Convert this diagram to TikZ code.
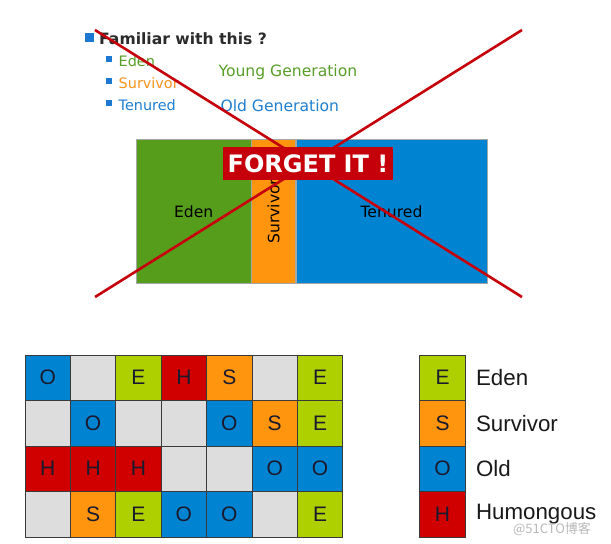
\documentclass[tikz,border=0pt]{standalone}
\usepackage{fontspec}
\setmainfont{DejaVu Sans}
\newfontfamily\gcarial{Liberation Sans}
\newfontfamily\gccjk{Noto Sans CJK SC}
\usepackage{xcolor}
\usepackage{tikz}
\usetikzlibrary{positioning}
\definecolor{gcink}{HTML}{2B2B2B}
\definecolor{gcbullet}{HTML}{1C78D0}
\definecolor{gctxtgreen}{HTML}{5A9E2A}
\definecolor{gctxtorange}{HTML}{F7941D}
\definecolor{gctxtblue}{HTML}{1F7FD0}
\definecolor{gcgreen}{HTML}{579D1C}
\definecolor{gcorange}{HTML}{FF950E}
\definecolor{gcblue}{HTML}{0084D1}
\definecolor{gcred}{HTML}{C5000B}
\definecolor{gclime}{HTML}{AECF00}
\definecolor{gchum}{HTML}{D00000}
\definecolor{gcempty}{HTML}{DDDDDD}
\definecolor{gcframe}{HTML}{3A3A3A}
\definecolor{gcletter}{HTML}{1A1A2E}

\begin{document}
\begin{tikzpicture}[
    x=1pt,
    y=-1pt,
    block/.style={draw=black!35, line width=0.4pt, inner sep=0pt, minimum height=144pt, anchor=north west},
    bullet/.style={fill=gcbullet, inner sep=0pt},
    cell/.style={draw=gcframe, line width=0.7pt, inner sep=0pt, minimum width=45.4pt, minimum height=45.5pt,
      font=\gcarial\fontsize{21}{21}\selectfont, text=gcletter},
    kind E/.style={fill=gclime, node contents=E},
    kind S/.style={fill=gcorange, node contents=S},
    kind O/.style={fill=gcblue, node contents=O},
    kind H/.style={fill=gchum, node contents=H},
    kind N/.style={fill=gcempty, node contents={}},
    cross/.style={draw=gcred, line width=2.6pt}
  ]
    \useasboundingbox[fill=white] (0,0) rectangle (611,544);

    % 1. Old style heap list
    \node[bullet, minimum size=9pt] (b-main) at (89,37) {};
    \node[right=2pt of b-main, yshift=-1.5pt, font=\bfseries\fontsize{15.6}{15.6}\selectfont, text=gcink] (t-main) {Familiar with this ?};

    \foreach \name/\txt/\col/\yy in {eden/Eden/gctxtgreen/59, surv/Survivor/gctxtorange/81, ten/Tenured/gctxtblue/103} {
      \node[bullet, minimum size=6pt] (sb-\name) at (109,\yy) {};
      \node[right=3pt of sb-\name, yshift=-2.5pt, font=\fontsize{14.4}{14.4}\selectfont, text=\col] (st-\name) {\txt};
    }

    \node[anchor=west, font=\fontsize{15.6}{15.6}\selectfont, text=gctxtgreen] (t-young) at (215,72) {Young Generation};
    \node[anchor=west, font=\fontsize{15.6}{15.6}\selectfont, text=gctxtblue] (t-old) at (217,106) {Old Generation};

    % 2. Contiguous generations
    \node[block, fill=gcgreen, minimum width=115pt] (blk-eden) at (136,139) {};
    \node[block, fill=gcorange, minimum width=44pt] (blk-surv) at (blk-eden.north east) {};
    \node[block, fill=gcblue, minimum width=191pt] (blk-ten) at (blk-surv.north east) {};

    \node[font=\fontsize{15.6}{15.6}\selectfont] (l-eden) at (blk-eden) {Eden};
    \node[font=\fontsize{15.6}{15.6}\selectfont, rotate=90] (l-surv) at (blk-surv) {Survivor};
    \node[font=\fontsize{15.6}{15.6}\selectfont] (l-ten) at (blk-ten) {Tenured};

    % 3. Crossed out
    \coordinate (x-nw) at (95,30);
    \coordinate (x-se) at (522,297);
    \coordinate (x-ne) at (522,30);
    \coordinate (x-sw) at (95,297);
    \draw[cross] (x-nw) -- (x-se);
    \draw[cross] (x-ne) -- (x-sw);

    \node[fill=gcred, text=white, inner sep=0pt, minimum width=170pt, minimum height=33pt,
      font=\bfseries\fontsize{24}{24}\selectfont] (banner) at (308,163.5) {FORGET IT !};

    % 4. G1 region grid
    \foreach \row [count=\r] in {{O,N,E,H,S,N,E},{N,O,N,N,O,S,E},{H,H,H,N,N,O,O},{N,S,E,O,O,N,E}} {
      \foreach \k [count=\c] in \row {
        \node[cell, name=cell-\r-\c, at={({25+45.4*(\c-0.5)},{355+45.5*(\r-0.5)})}, kind \k];
      }
    }

    % 5. Legend
    \foreach \k/\lbl [count=\i] in {E/Eden, S/Survivor, O/Old, H/Humongous} {
      \node[cell, name=leg-\k, at={(442.5,{355+45.5*(\i-0.5)})}, kind \k];
      \node[right=7pt of leg-\k, font=\gcarial\fontsize{22.3}{22.3}\selectfont, text=black!90] (leg-txt-\k) {\lbl};
    }

    \node[font=\gccjk\fontsize{13}{13}\selectfont, text=gray!55] (wm) at (552,529) {@51CTO博客};
\end{tikzpicture}
\end{document}
